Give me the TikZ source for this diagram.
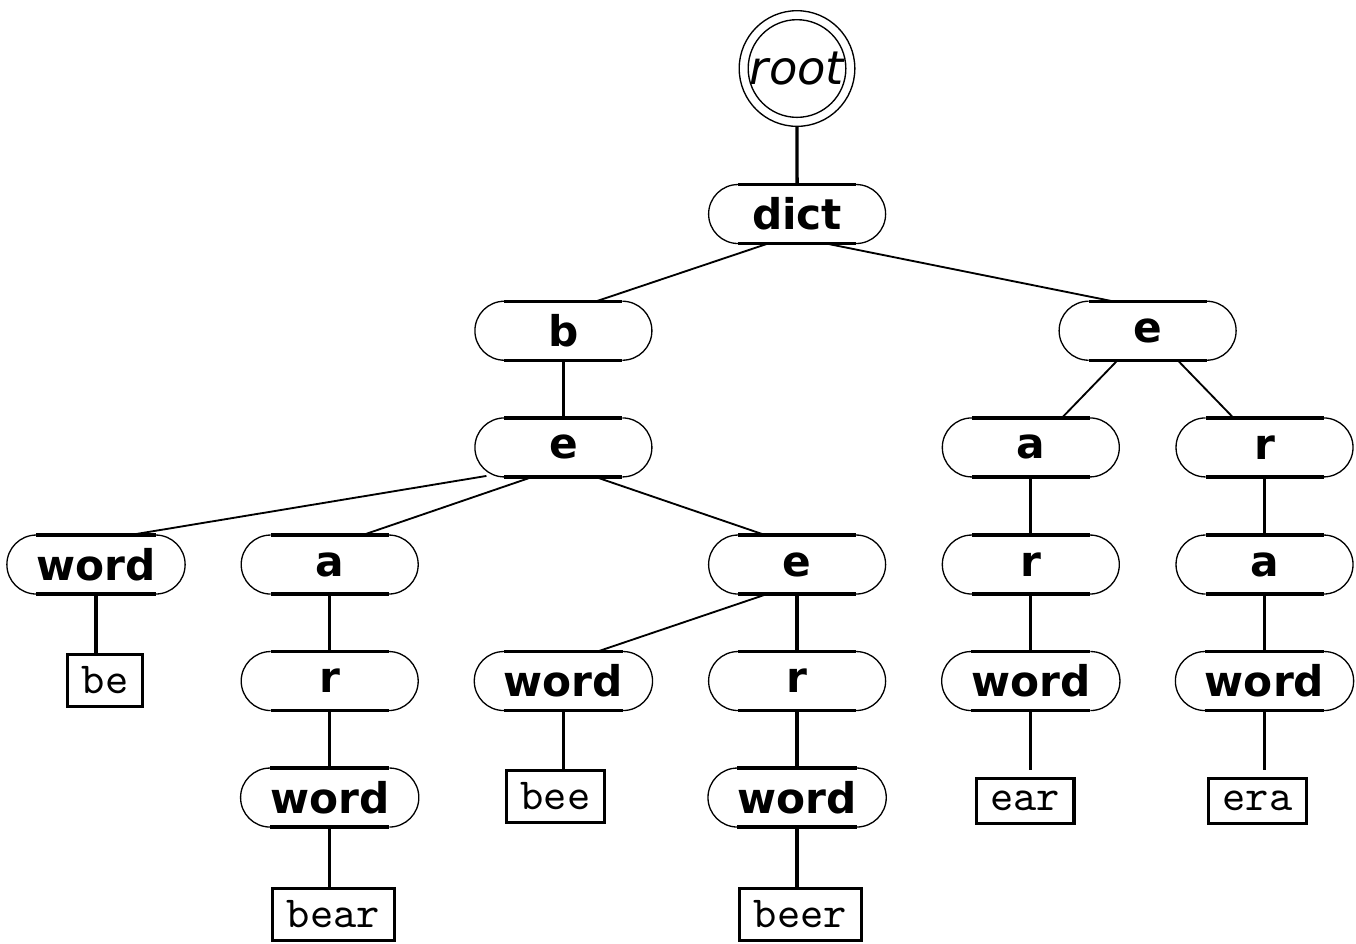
\documentclass[tikz,border=0pt]{standalone}
\usepackage{fontspec}
\newfontfamily\dejavu{DejaVu Sans}
\usetikzlibrary{calc}
\tikzset{
  stad/.style={rectangle, inner sep=0pt, outer sep=0pt, minimum width=1.010cm, minimum height=0.505cm,
    font=\dejavu\bfseries\fontsize{10.3pt}{12pt}\selectfont},
  wbox/.style={rectangle, draw, line width=0.75pt, inner xsep=0.12cm, inner ysep=0.107cm, anchor=south,
    font=\ttfamily\fontsize{10.8pt}{12pt}\selectfont},
  thickln/.style={line width=0.8pt},
  thinln/.style={line width=0.32pt},
  slant/.style={line width=0.45pt},
  vert/.style={line width=0.8pt},
}
\begin{document}
\begin{tikzpicture}[x=0.0085616cm,y=-0.0085616cm]
\useasboundingbox (0,0) rectangle (1356,943);
% root
\node[circle, draw, line width=0.33pt, minimum size=0.990cm, inner sep=0pt,
  font=\dejavu\itshape\fontsize{11.3pt}{13pt}\selectfont] (root) at (797,68.5) {root};
\draw[line width=0.33pt] (root.center) circle[radius=0.418cm];
% stadium nodes
\node[stad] (dict) at (797.1,214) {dict};
\node[stad] (b)  at (563.4,330.7) {b};
\node[stad] (e1) at (1147.6,330.7) {e};
\node[stad] (e2) at (563.4,447.4) {e};
\node[stad] (a1) at (1030.8,447.4) {a};
\node[stad] (r1) at (1264.5,447.4) {r};
\node[stad] (w1) at (96,564.5) {word};
\node[stad] (a2) at (329.7,564.5) {a};
\node[stad] (e3) at (797.1,564.5) {e};
\node[stad] (r2) at (1030.8,564.5) {r};
\node[stad] (a3) at (1264.5,564.5) {a};
\node[stad] (r3) at (329.7,681) {r};
\node[stad] (w2) at (563.4,681) {word};
\node[stad] (r4) at (797.1,681) {r};
\node[stad] (w3) at (1030.8,681) {word};
\node[stad] (w4) at (1264.5,681) {word};
\node[stad] (w5) at (329.7,797.5) {word};
\node[stad] (w6) at (797.1,797.5) {word};
\foreach \n in {dict,b,e1,e2,a1,r1,w1,a2,e3,r2,a3,r3,w2,r4,w3,w4,w5,w6} {
  \draw[thickln] (\n.north west) -- (\n.north east);
  \draw[thickln] (\n.south west) -- (\n.south east);
  \draw[thinln] (\n.north east) arc[start angle=90, end angle=-90, radius=0.2525cm];
  \draw[thinln] (\n.south west) arc[start angle=270, end angle=90, radius=0.2525cm];
}
% word boxes
\node[wbox] (bbe)   at (105,708)   {be};
\node[wbox] (bbee)  at (555.5,824) {bee};
\node[wbox] (bear)  at (1025,825)  {ear};
\node[wbox] (bera)  at (1257.5,825) {era};
\node[wbox] (bbear) at (333.5,942) {bear};
\node[wbox] (bbeer) at (800.5,942) {beer};
% connector ends
\coordinate (c1) at ($(w1.south)+(0,59)$);
\coordinate (c2) at ($(w2.south)+(0,59)$);
\coordinate (c3) at ($(w3.south)+(0,59)$);
\coordinate (c4) at ($(w4.south)+(0,59)$);
\coordinate (c5) at ($(w5.south)+(0,60)$);
\coordinate (c6) at ($(w6.south)+(0,60)$);
% edges
\draw[vert] (root.south) -- (dict.north);
\draw[slant] ($(dict.south)+(-29,0)$) -- ($(b.north)+(33,0)$);
\draw[slant] ($(dict.south)+(29,0)$) -- ($(e1.north)+(-35,0)$);
\draw[vert] (b.south) -- (e2.north);
\draw[slant] ($(e1.south)+(-30,0)$) -- ($(a1.north)+(31,0)$);
\draw[slant] ($(e1.south)+(30,0)$) -- ($(r1.north)+(-31,0)$);
\draw[slant] ($(e2.south)+(-77,-1)$) -- ($(w1.north)+(34,0)$);
\draw[slant] ($(e2.south)+(-31,0)$) -- ($(a2.north)+(33,0)$);
\draw[slant] ($(e2.south)+(32,0)$) -- ($(e3.north)+(-32,0)$);
\draw[slant] ($(e3.south)+(-30,0)$) -- ($(w2.north)+(34,0)$);
\draw[vert] (a1.south) -- (r2.north);
\draw[vert] (r2.south) -- (w3.north);
\draw[vert] (r1.south) -- (a3.north);
\draw[vert] (a3.south) -- (w4.north);
\draw[vert] (a2.south) -- (r3.north);
\draw[vert] (r3.south) -- (w5.north);
\draw[vert] (e3.south) -- (r4.north);
\draw[vert] (r4.south) -- (w6.north);
\draw[vert] (w1.south) -- (c1);
\draw[vert] (w2.south) -- (c2);
\draw[vert] (w3.south) -- (c3);
\draw[vert] (w4.south) -- (c4);
\draw[vert] (w5.south) -- (c5);
\draw[vert] (w6.south) -- (c6);
\end{tikzpicture}
\end{document}
